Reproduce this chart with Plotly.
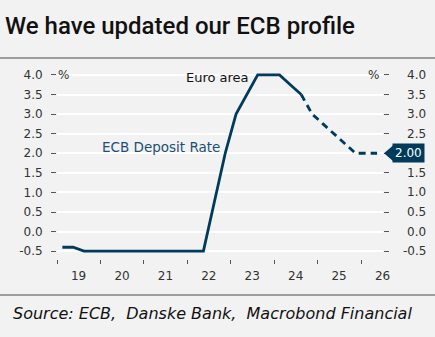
import pandas as pd
import plotly.graph_objects as go

# ---------------- data ----------------
actual_quarters = ["2019Q1", "2019Q2", "2019Q3", "2019Q4",
                   "2020Q1", "2020Q2", "2020Q3", "2020Q4",
                   "2021Q1", "2021Q2", "2021Q3", "2021Q4",
                   "2022Q1", "2022Q2", "2022Q3", "2022Q4",
                   "2023Q1", "2023Q2", "2023Q3", "2023Q4",
                   "2024Q1", "2024Q2", "2024Q3"]
actual_rate = [-0.4, -0.4, -0.5, -0.5,
               -0.5, -0.5, -0.5, -0.5,
               -0.5, -0.5, -0.5, -0.5,
               -0.5, -0.5, 0.75, 2.0,
               3.0, 3.5, 4.0, 4.0,
               4.0, 3.75, 3.5]
forecast_quarters = ["2024Q3", "2024Q4", "2025Q1", "2025Q2", "2025Q3",
                     "2025Q4", "2026Q1", "2026Q2"]
forecast_rate = [3.5, 3.0, 2.75, 2.5, 2.25, 2.0, 2.0, 2.0]

year_ticks = ["2019", "2020", "2021", "2022", "2023", "2024", "2025", "2026"]
year_labels = ["19", "20", "21", "22", "23", "24", "25", "26"]
y_ticks = [-0.5, 0.0, 0.5, 1.0, 1.5, 2.0, 2.5, 3.0, 3.5, 4.0]
y_labels = ["-0.5", "0.0", "0.5", "1.0", "1.5", "2.0", "2.5", "3.0", "3.5", "4.0"]

title_text = "We have updated our ECB profile"
source_text = "Source: ECB,  Danske Bank,  Macrobond Financial"
series_label = "ECB Deposit Rate"
region_label = "Euro area"


def q_mid(q):
    p = pd.Period(q, freq="Q")
    return p.start_time + (p.end_time - p.start_time) / 2


ax = [q_mid(q) for q in actual_quarters]
fx = [q_mid(q) for q in forecast_quarters]

# ---------------- layout geometry ----------------
W, H = 435, 337
L, R, T, B = 57, 52, 71, 78
PW, PH = W - L - R, H - T - B


def xp(px):
    return (px - L) / PW


def yp(py):
    return (H - B - py) / PH


NAVY = "#003b5c"
BG = "#f2f2f2"
FONT = "DejaVu Sans"

fig = go.Figure()
fig.add_trace(go.Scatter(x=ax, y=actual_rate, mode="lines",
                         line=dict(color=NAVY, width=2.8), hoverinfo="skip",
                         showlegend=False))
fig.add_trace(go.Scatter(x=fx, y=forecast_rate, mode="lines",
                         line=dict(color=NAVY, width=2.8, dash="7px,5px"),
                         hoverinfo="skip", showlegend=False))
# invisible trace to anchor right axis
fig.add_trace(go.Scatter(x=[ax[0]], y=[actual_rate[0]], yaxis="y2", mode="lines",
                         line=dict(width=0), hoverinfo="skip", showlegend=False))

x0 = pd.Timestamp(year_ticks[0] + "-01-01")
x1 = pd.Timestamp(year_ticks[-1] + "-07-05")

fig.update_layout(
    width=W, height=H,
    margin=dict(l=L, r=R, t=T, b=B),
    paper_bgcolor=BG, plot_bgcolor=BG,
    font=dict(family=FONT, size=12, color="#333333"),
    xaxis=dict(
        range=[x0, x1], type="date",
        tickmode="array",
        tickvals=[pd.Timestamp(y + "-07-01") for y in year_ticks],
        ticktext=year_labels,
        ticks="outside", ticklen=6, tickcolor="rgba(0,0,0,0)",
        showgrid=False, zeroline=False, showline=False,
        tickfont=dict(size=12, color="#333333"),
        minor=dict(tickmode="array",
                   tickvals=[pd.Timestamp(y + "-01-01") for y in year_ticks],
                   ticks="outside", ticklen=4, tickcolor="#555555",
                   tickwidth=1, showgrid=False),
    ),
    yaxis=dict(
        range=[-0.7, 4.1], tickmode="array", tickvals=y_ticks, ticktext=y_labels,
        ticks="outside", ticklen=5, tickcolor="#555555", tickwidth=1,
        showgrid=True, gridcolor="white", gridwidth=1.5,
        zeroline=False, showline=False, ticklabelstandoff=6,
        tickfont=dict(size=12, color="#333333"),
    ),
    yaxis2=dict(
        range=[-0.7, 4.1], overlaying="y", side="right", tickmode="array",
        tickvals=y_ticks, showticklabels=False,
        ticks="outside", ticklen=5, tickcolor="#555555", tickwidth=1,
        showgrid=False, zeroline=False, showline=False,
    ),
)

last = forecast_rate[-1]

ann = []
# title and source
ann.append(dict(text=title_text, xref="paper", yref="paper", x=xp(3), y=yp(26),
                xanchor="left", yanchor="middle", showarrow=False,
                font=dict(family="Roboto", size=24, color="#111111", weight=500)))
ann.append(dict(text=source_text, xref="paper", yref="paper", x=xp(11), y=yp(313),
                xanchor="left", yanchor="middle", showarrow=False,
                font=dict(family="DejaVu Sans", size=16, color="#111111", style="italic")))
# right axis labels (right aligned); the one under the last-value callout is hidden by it
for v, t in zip(y_ticks, y_labels):
    if abs(v - last) < 1e-9:
        continue
    ann.append(dict(text=t, xref="paper", yref="y", x=xp(428), y=v,
                    xanchor="right", yanchor="middle", showarrow=False,
                    font=dict(size=12, color="#333333")))
# % markers
top = y_ticks[-1]
ann.append(dict(text="%", xref="paper", yref="y", x=xp(56), y=top, xanchor="left",
                yanchor="middle", showarrow=False, font=dict(size=12, color="#333333")))
ann.append(dict(text="%", xref="paper", yref="y", x=xp(381), y=top, xanchor="right",
                yanchor="middle", showarrow=False, font=dict(size=12, color="#333333")))
# series labels
peak_i = actual_rate.index(max(actual_rate))
ann.append(dict(text=region_label, x=ax[peak_i], y=max(actual_rate), xanchor="right",
                yanchor="middle", xshift=-7, yshift=-3, showarrow=False,
                font=dict(size=13, color="#111111")))
ann.append(dict(text=series_label, x=pd.Timestamp("2019-12-28"), y=2.16, xanchor="left",
                yanchor="middle", showarrow=False,
                font=dict(size=13.5, color="#1c4f77")))
# last value callout
ann.append(dict(text=f"{last:.2f}", xref="paper", yref="y", x=xp(392), y=last,
                xanchor="left", yanchor="middle", showarrow=False,
                bgcolor=NAVY, borderpad=2, font=dict(size=12, color="white")))
fig.update_layout(annotations=ann)

shapes = [
    dict(type="line", xref="paper", yref="paper", x0=xp(0), x1=xp(435),
         y0=yp(58), y1=yp(58), line=dict(color="#808080", width=1.5)),
    dict(type="line", xref="paper", yref="paper", x0=xp(0), x1=xp(435),
         y0=yp(295), y1=yp(295), line=dict(color="#808080", width=1.5)),
]
fig.update_layout(shapes=shapes)
# pointer triangle of callout
fig.add_shape(type="path", xref="paper", yref="y",
              path=f"M {xp(384)} {last} L {xp(393)} {last + 0.2} L {xp(393)} {last - 0.2} Z",
              fillcolor=NAVY, line=dict(width=0))

fig.write_html("out.html")
